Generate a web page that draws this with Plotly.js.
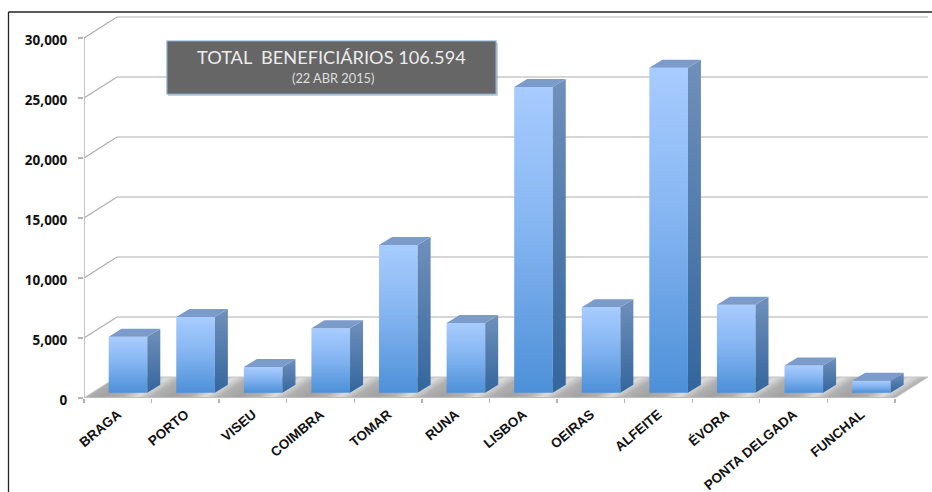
<!DOCTYPE html>
<html>
<head>
<meta charset="utf-8">
<script src="https://cdn.plot.ly/plotly-3.0.1.min.js"></script>
<style>html,body{margin:0;padding:0;background:#fff;overflow:hidden}</style>
</head>
<body>
<div id="chart" style="width:932px;height:492px"></div>
<script>
// Beneficiaries per unit
const categories = ['BRAGA','PORTO','VISEU','COIMBRA','TOMAR','RUNA','LISBOA','OEIRAS','ALFEITE','ÉVORA','PONTA DELGADA','FUNCHAL'];
const beneficiaries = [4670,6300,2140,5370,12300,5800,25470,7130,27080,7320,2270,1000];
const yTicks = [0,5000,10000,15000,20000,25000,30000];

// Plot frame in pixels; data units map linearly to it
const W = 932, H = 492, LEFT = 84, BASE = 398;
const PX_PER_CAT = 67.58, PX_PER_UNIT = 0.012;
const xMax = (W - LEFT) / PX_PER_CAT, yMax = BASE / PX_PER_UNIT;
const dx = p => p / PX_PER_CAT;   // horizontal pixels to category units
const dv = p => p / PX_PER_UNIT;  // vertical pixels to value units

// Oblique projection of the chart box and of each column
const WALL_X = dx(33), WALL_V = dv(21);
const COL_X = dx(10.2), COL_V = dv(5.3), COL_W = dx(38.6);
const DEPTH_X = dx(13), DEPTH_V = dv(8);
const N = categories.length;
const centers = categories.map((_, i) => i + 0.5 + COL_X);

const GRID = '#adadad';
const line = (c, w) => ({color: c, width: w});
const shapes = [];

// Back wall grid: diagonal on the side wall, then across the back
yTicks.forEach(v => {
  if (v === 0) return;
  shapes.push({type:'path', layer:'below', xref:'x', yref:'y',
    path:`M0,${v} L${WALL_X},${v + WALL_V} L${N + WALL_X},${v + WALL_V}`,
    line: line(GRID, 1.2), fillcolor:'rgba(0,0,0,0)'});
});

// Floor
const floorIndex = shapes.length;
shapes.push({type:'path', layer:'below', xref:'x', yref:'y',
  path:`M0,0 L${N},0 L${N + WALL_X},${WALL_V} L${WALL_X},${WALL_V} Z`,
  line: line('#c4c4c4', 1), fillcolor:'#b0b0b0'});

// Front edges of the box
shapes.push({type:'line', layer:'below', xref:'x', yref:'y', x0:0, x1:0, y0:0, y1:30000, line: line('#b4b4b4', 1.6)});
shapes.push({type:'line', layer:'below', xref:'x', yref:'y', x0:0, x1:N, y0:0, y1:0, line: line('#bdbdbd', 1.8)});

// Outer frame lines, title panel and its soft shadow
const paperX = p => (p - LEFT) / (W - LEFT);
const paperY = p => (BASE - p) / BASE;
const frame = (a, b, c, d) => ({type:'line', xref:'paper', yref:'paper',
  x0: paperX(a), y0: paperY(b), x1: paperX(c), y1: paperY(d), line: line('#222', 1.3)});
shapes.push(frame(8.5, 12, W, 12), frame(8.5, 12, 8.5, H));
shapes.push({type:'rect', layer:'above', xref:'paper', yref:'paper',
  x0: paperX(168), x1: paperX(498), y0: paperY(43), y1: paperY(96),
  fillcolor:'rgba(70,90,120,0.28)', line:{width:0}});
shapes.push({type:'rect', layer:'above', xref:'paper', yref:'paper',
  x0: paperX(167), x1: paperX(496), y0: paperY(41), y1: paperY(94),
  fillcolor:'#666666', line: line('#84a9cf', 1.2)});

const traces = [];

// Front faces
traces.push({type:'bar', x: centers, y: beneficiaries, base: beneficiaries.map(() => COL_V), width: COL_W,
  marker:{color:'#6fa8ea', line:{width:0}}, hoverinfo:'skip', showlegend:false});

// Side faces, one trace each so every face carries its own shading
categories.forEach((_, i) => {
  const r = centers[i] + COL_W / 2, lo = COL_V, hi = COL_V + beneficiaries[i];
  traces.push({type:'scatter', mode:'lines', fill:'toself', fillcolor:'#5a82b4', line:{width:0}, hoverinfo:'skip', showlegend:false,
    x:[r, r + DEPTH_X, r + DEPTH_X, r, r],
    y:[lo, lo + DEPTH_V, hi + DEPTH_V, hi, lo]});
});

// Top faces
const topX = [], topY = [];
categories.forEach((_, i) => {
  const l = centers[i] - COL_W / 2, r = centers[i] + COL_W / 2, hi = COL_V + beneficiaries[i];
  topX.push(l, r, r + DEPTH_X, l + DEPTH_X, l, null);
  topY.push(hi, hi, hi + DEPTH_V, hi + DEPTH_V, hi, null);
});
traces.push({type:'scatter', mode:'lines', fill:'toself', fillcolor:'#7b9bcb', line:{width:0}, hoverinfo:'skip', showlegend:false, x: topX, y: topY});

const layout = {
  width: W, height: H,
  margin:{l: LEFT, r: 0, t: 0, b: H - BASE, pad: 0},
  paper_bgcolor:'#ffffff', plot_bgcolor:'rgba(0,0,0,0)',
  showlegend:false, shapes,
  xaxis:{range:[0, xMax], tickmode:'array',
    tickvals: categories.map((_, i) => i + 0.5), ticktext: categories,
    tickangle:-40, ticks:'', ticklen:0, showgrid:false, zeroline:false, showline:false, ticklabelstandoff:5,
    tickfont:{family:'"Liberation Sans", Arial, sans-serif', size:13.5, color:'#111', weight:700},
    minor:{tickmode:'array', tickvals: Array.from({length: N + 1}, (_, i) => i), ticks:'outside', ticklen:4, tickcolor:'#b4b4b4', tickwidth:1.4, showgrid:false}},
  yaxis:{range:[0, yMax], tickmode:'array', tickvals: yTicks, tickformat:',d',
    ticks:'outside', ticklen:5, tickcolor:'#b4b4b4', tickwidth:1.4,
    showgrid:false, zeroline:false, showline:false, ticklabelstandoff:8, ticklabelshift:2,
    tickfont:{family:'"Open Sans", sans-serif', size:13.5, color:'#111', weight:700}},
  annotations:[
    {xref:'paper', yref:'paper', x: paperX(331.5), y: paperY(57), xanchor:'center', yanchor:'middle', text:'TOTAL  BENEFICIÁRIOS 106.594', showarrow:false,
     font:{family:'Lato, sans-serif', size:18.2, color:'#ececec'}},
    {xref:'paper', yref:'paper', x: paperX(333), y: paperY(77.5), xanchor:'center', yanchor:'middle', text:'(22 ABR 2015)', showarrow:false,
     font:{family:'Lato, sans-serif', size:12.8, color:'#dedede'}}
  ]
};

// Plotly has no gradient fill for these marks, so shading is attached once drawn
function addGradients(gd) {
  const svg = gd.querySelector('svg.main-svg');
  const NS = 'http://www.w3.org/2000/svg';
  const defs = document.createElementNS(NS, 'defs');
  const grad = (id, stops, attrs) => {
    const g = document.createElementNS(NS, 'linearGradient');
    g.setAttribute('id', id);
    Object.entries(attrs).forEach(([k, v]) => g.setAttribute(k, v));
    stops.forEach(([o, c]) => {
      const s = document.createElementNS(NS, 'stop');
      s.setAttribute('offset', o); s.setAttribute('stop-color', c);
      g.appendChild(s);
    });
    defs.appendChild(g);
  };
  const vertical = {x1:'0', y1:'0', x2:'0', y2:'1'};
  grad('colFront', [[0,'#a8ccff'],[0.45,'#86b6f2'],[1,'#4d90d8']], vertical);
  grad('colSide', [[0,'#7090bb'],[1,'#33669d']], vertical);

  // Sheen stripes on the floor run along the depth direction, between columns
  const skew = -33 / 21;
  const phase = ((-skew * BASE) % PX_PER_CAT);
  grad('floorSheen', [[0,'#dcdcdc'],[0.22,'#b0b0b0'],[0.5,'#a2a2a2'],[0.78,'#b0b0b0'],[1,'#dcdcdc']], {
    gradientUnits:'userSpaceOnUse', spreadMethod:'repeat',
    x1: phase, y1: 0, x2: phase + PX_PER_CAT, y2: 0,
    gradientTransform:`matrix(1 0 ${skew} 1 0 0)`
  });
  svg.insertBefore(defs, svg.firstChild);

  gd.querySelectorAll('.barlayer .point path').forEach(p => p.style.setProperty('fill', 'url(#colFront)'));
  const fills = gd.querySelectorAll('.scatterlayer .trace .js-fill');
  fills.forEach((p, i) => { if (i < N) p.style.setProperty('fill', 'url(#colSide)'); });
  const floor = gd.querySelector(`.shapelayer path[data-index="${floorIndex}"]`);
  if (floor) floor.style.setProperty('fill', 'url(#floorSheen)');
}

Plotly.newPlot('chart', traces, layout, {displayModeBar:false, staticPlot:true}).then(addGradients);
</script>
</body>
</html>
